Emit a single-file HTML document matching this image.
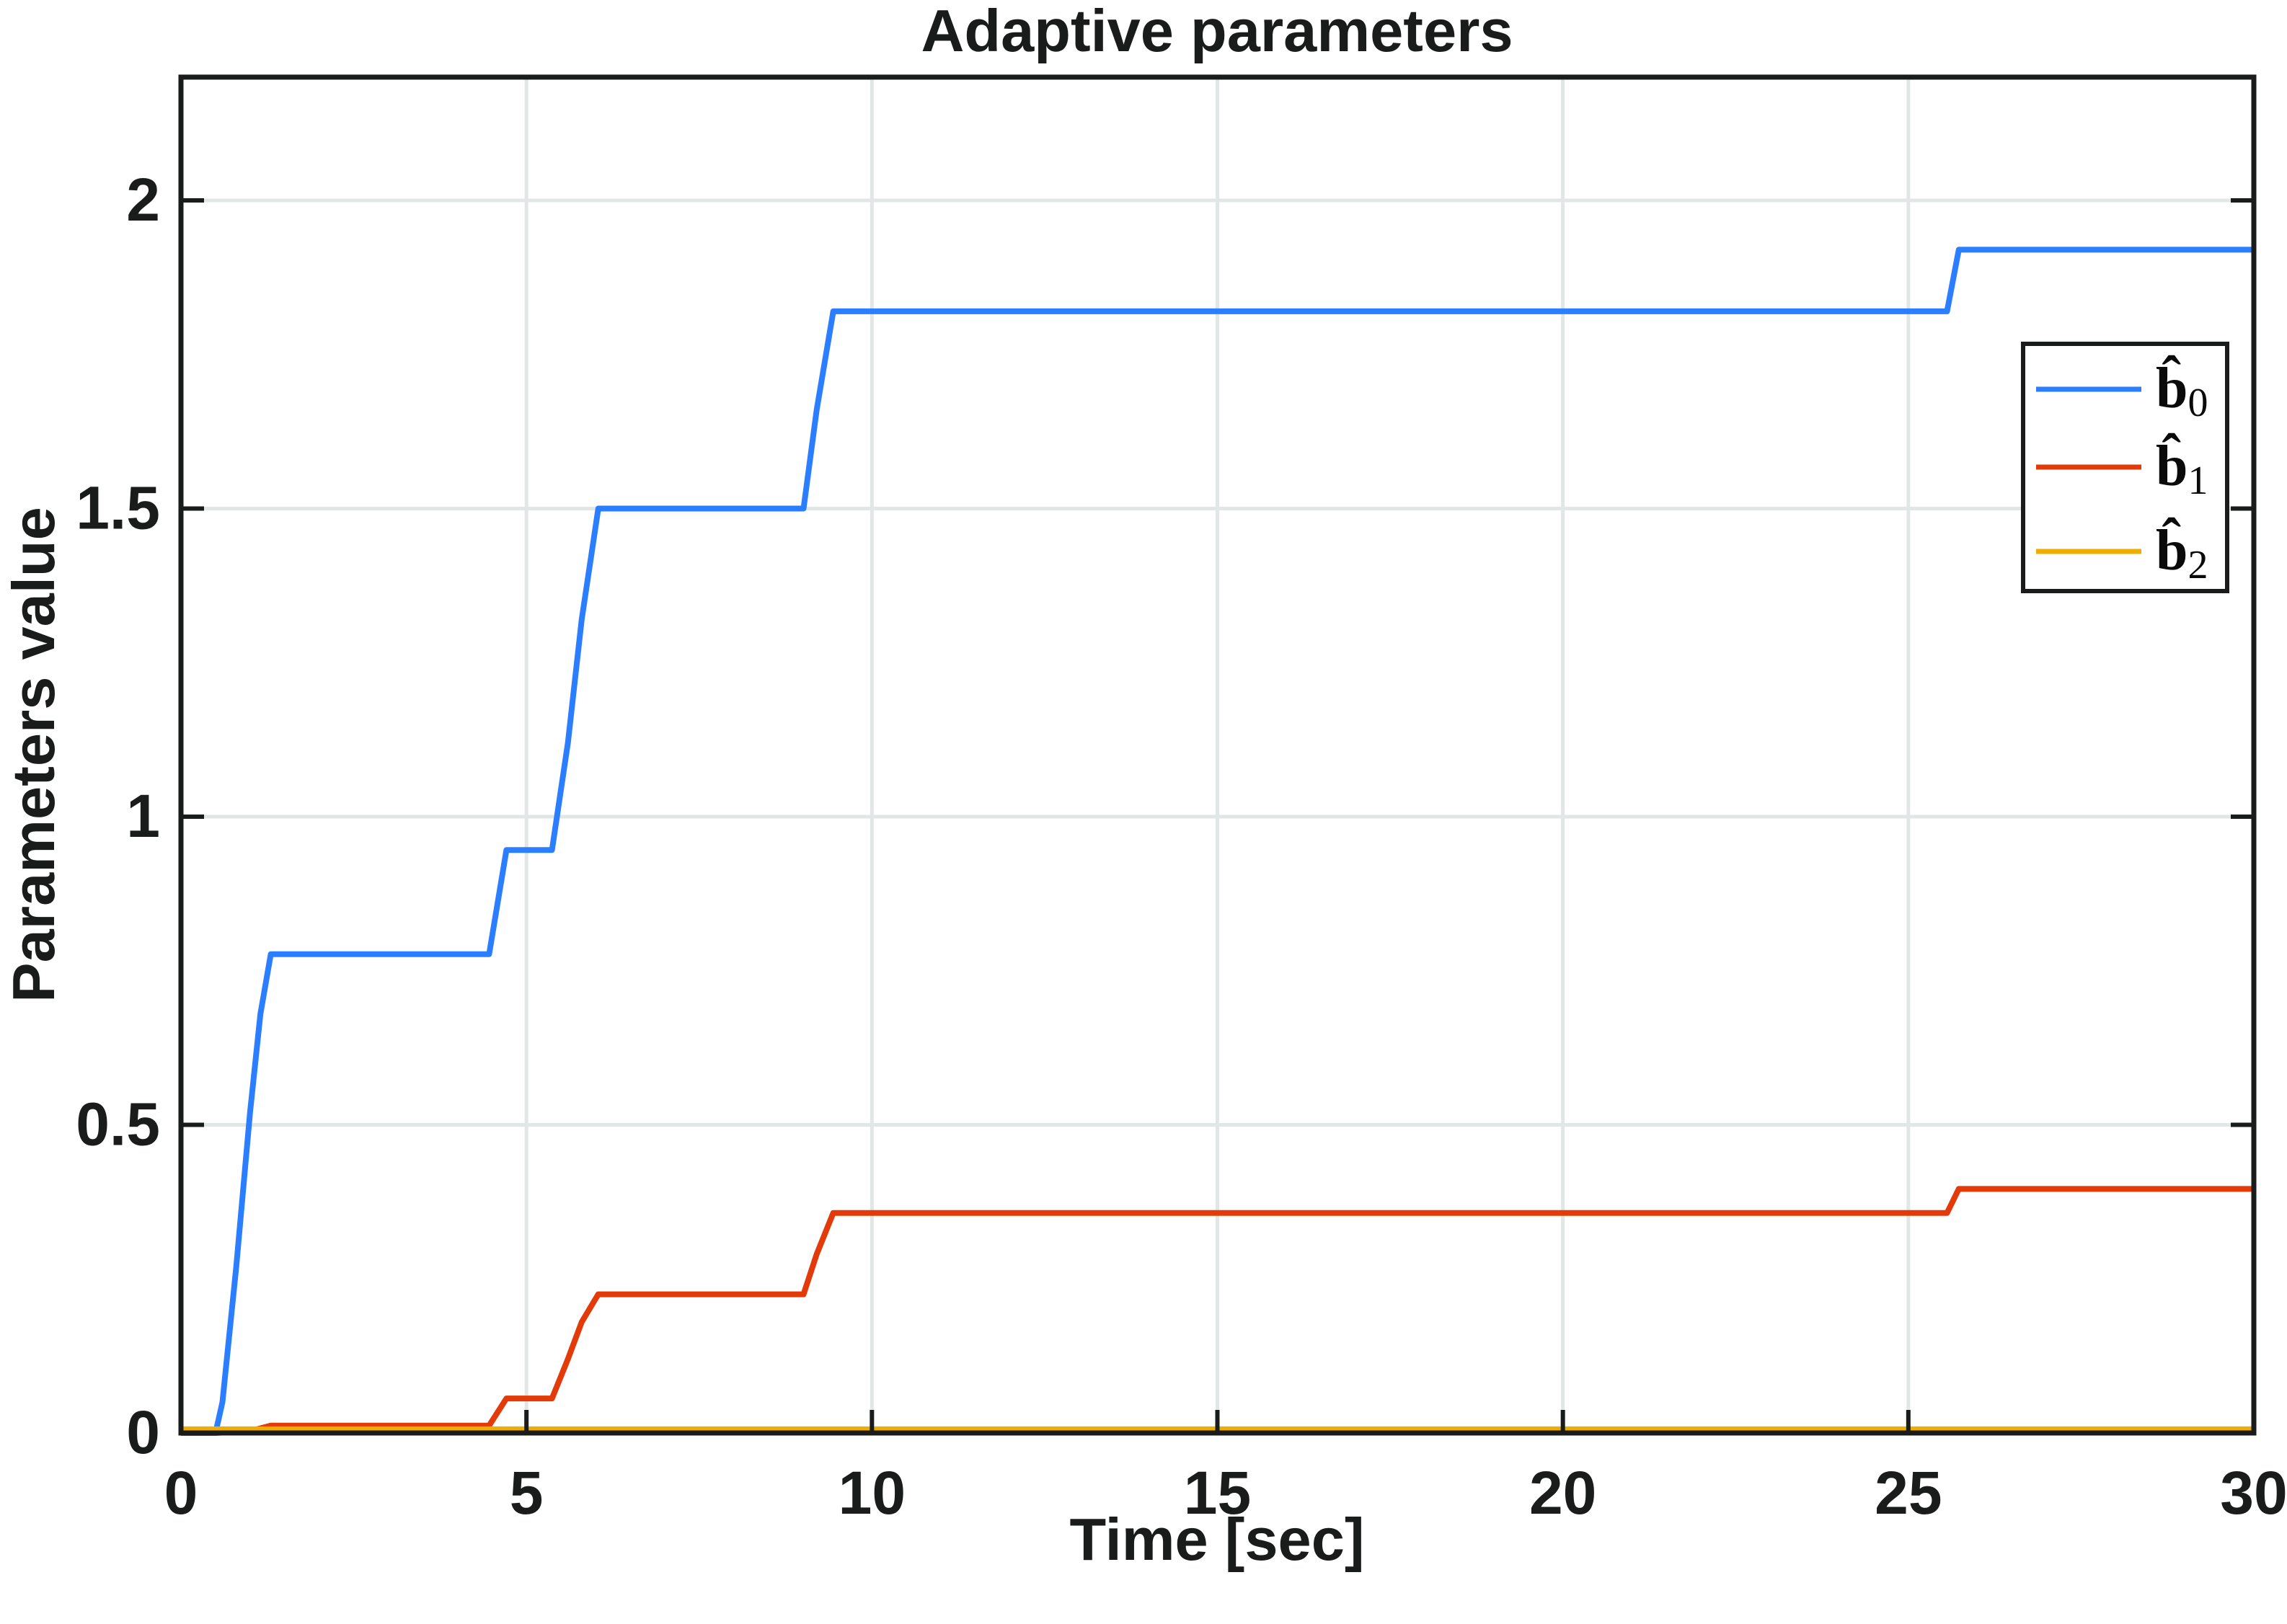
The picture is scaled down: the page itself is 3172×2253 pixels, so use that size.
<!DOCTYPE html>
<html><head><meta charset="utf-8"><style>
html,body{margin:0;padding:0;background:#fff;}
svg{display:block;}
text{font-family:"Liberation Sans",Arial,sans-serif;font-weight:bold;fill:#1a1c1c;}
.leg{font-family:"Liberation Serif","DejaVu Serif",serif;fill:#0a0a0a;}
</style></head><body>
<svg id="chart" width="3172" height="2253" viewBox="0 0 3172 2253" xmlns="http://www.w3.org/2000/svg">
<g id="grid"></g>
<g id="series"></g>
<g id="axes"></g>
<text x="1688" y="71" font-size="83" text-anchor="middle">Adaptive parameters</text>
<text x="1688" y="2164" font-size="83" text-anchor="middle">Time [sec]</text>
<text x="0" y="0" font-size="83" text-anchor="middle" transform="translate(75,1047) rotate(-90)">Parameters value</text>
<g>
<rect x="2806" y="477" width="283" height="343" fill="#fff" stroke="#1a1c1c" stroke-width="6"/>
<line x1="2824" y1="540" x2="2970" y2="540" stroke="#2a7eff" stroke-width="7"/>
<line x1="2824" y1="648" x2="2970" y2="648" stroke="#e33a0a" stroke-width="7"/>
<line x1="2824" y1="765" x2="2970" y2="765" stroke="#efad00" stroke-width="7"/>
<text class="leg" x="2990" y="565" font-size="80">b̂<tspan font-size="56" font-weight="normal" dy="12">0</tspan></text>
<text class="leg" x="2990" y="673" font-size="80">b̂<tspan font-size="56" font-weight="normal" dy="12">1</tspan></text>
<text class="leg" x="2990" y="790" font-size="80">b̂<tspan font-size="56" font-weight="normal" dy="12">2</tspan></text>
</g>
</svg>
<script>
const xTicks = [0, 5, 10, 15, 20, 25, 30];
const yTicks = [0, 0.5, 1, 1.5, 2];
const yTickLabels = ['0', '0.5', '1', '1.5', '2'];
const b0T = [0, 0.5, 0.6, 0.8, 1.0, 1.15, 1.3, 4.46, 4.71, 5.37, 5.6, 5.8, 6.04, 9.01, 9.2, 9.44, 25.56, 25.73, 30];
const b0V = [0, 0, 0.05, 0.27, 0.52, 0.68, 0.777, 0.777, 0.946, 0.946, 1.12, 1.32, 1.5, 1.5, 1.66, 1.82, 1.82, 1.92, 1.92];
const b1T = [0, 0.5, 1.0, 1.3, 4.46, 4.71, 5.37, 5.6, 5.8, 6.04, 9.01, 9.2, 9.44, 25.56, 25.73, 30];
const b1V = [0, 0, 0.003, 0.012, 0.012, 0.056, 0.056, 0.12, 0.18, 0.225, 0.225, 0.29, 0.357, 0.357, 0.396, 0.396];
const b2T = [0, 30];
const b2V = [0.006, 0.006];

const X0=251, X1=3126, Y0=1988, Y1=107, XMAX=30, YMAX=2.2;
function sx(t){return X0+(X1-X0)*t/XMAX;}
function sy(v){return Y0-(Y0-Y1)*v/YMAX;}
const NS='http://www.w3.org/2000/svg';
function mk(tag,attrs,parent){const e=document.createElementNS(NS,tag);for(const k in attrs)e.setAttribute(k,attrs[k]);parent.appendChild(e);return e;}
const grid=document.getElementById('grid'), axes=document.getElementById('axes'), series=document.getElementById('series');
xTicks.forEach((t,i)=>{
  if(t>0&&t<XMAX){
    const g=mk('line',{x1:sx(t),x2:sx(t),y1:Y1,y2:Y0,stroke:'#e3e6e6','stroke-width':5},grid);
    
    
  }
  const tk=mk('line',{x1:sx(t),x2:sx(t),y1:Y0,y2:Y0-32,stroke:'#1a1c1c','stroke-width':6},axes);
  
  
  const lb=mk('text',{x:sx(t),y:2100,'font-size':84,'text-anchor':'middle'},axes);
  lb.textContent=String(t);
  
  
});
yTicks.forEach((v,i)=>{
  if(v>0){
    const g=mk('line',{x1:X0,x2:X1,y1:sy(v),y2:sy(v),stroke:'#e3e6e6','stroke-width':5},grid);
    
    
  }
  const tk=mk('line',{x1:X0,x2:X0+32,y1:sy(v),y2:sy(v),stroke:'#1a1c1c','stroke-width':6},axes);
  
  
  const tk2=mk('line',{x1:X1,x2:X1-32,y1:sy(v),y2:sy(v),stroke:'#1a1c1c','stroke-width':6},axes);
  
  
  const lb=mk('text',{x:222,y:sy(v)+28,'font-size':84,'text-anchor':'end'},axes);
  lb.textContent=yTickLabels[i];
  
  
});
const frame=mk('rect',{x:X0,y:Y1,width:X1-X0,height:Y0-Y1,fill:'none',stroke:'#1a1c1c','stroke-width':7},axes);


function drawLine(T,V,color,name){
  const d=T.map((t,i)=>(i?'L':'M')+sx(t).toFixed(1)+' '+sy(V[i]).toFixed(1)).join(' ');
  const p=mk('path',{d:d,fill:'none',stroke:color,'stroke-width':8,'stroke-linejoin':'round'},series);
  
  
}
drawLine(b0T,b0V,'#2a7eff','line-b0');
drawLine(b1T,b1V,'#e33a0a','line-b1');
drawLine(b2T,b2V,'#efad00','line-b2');
</script>
</body></html>
